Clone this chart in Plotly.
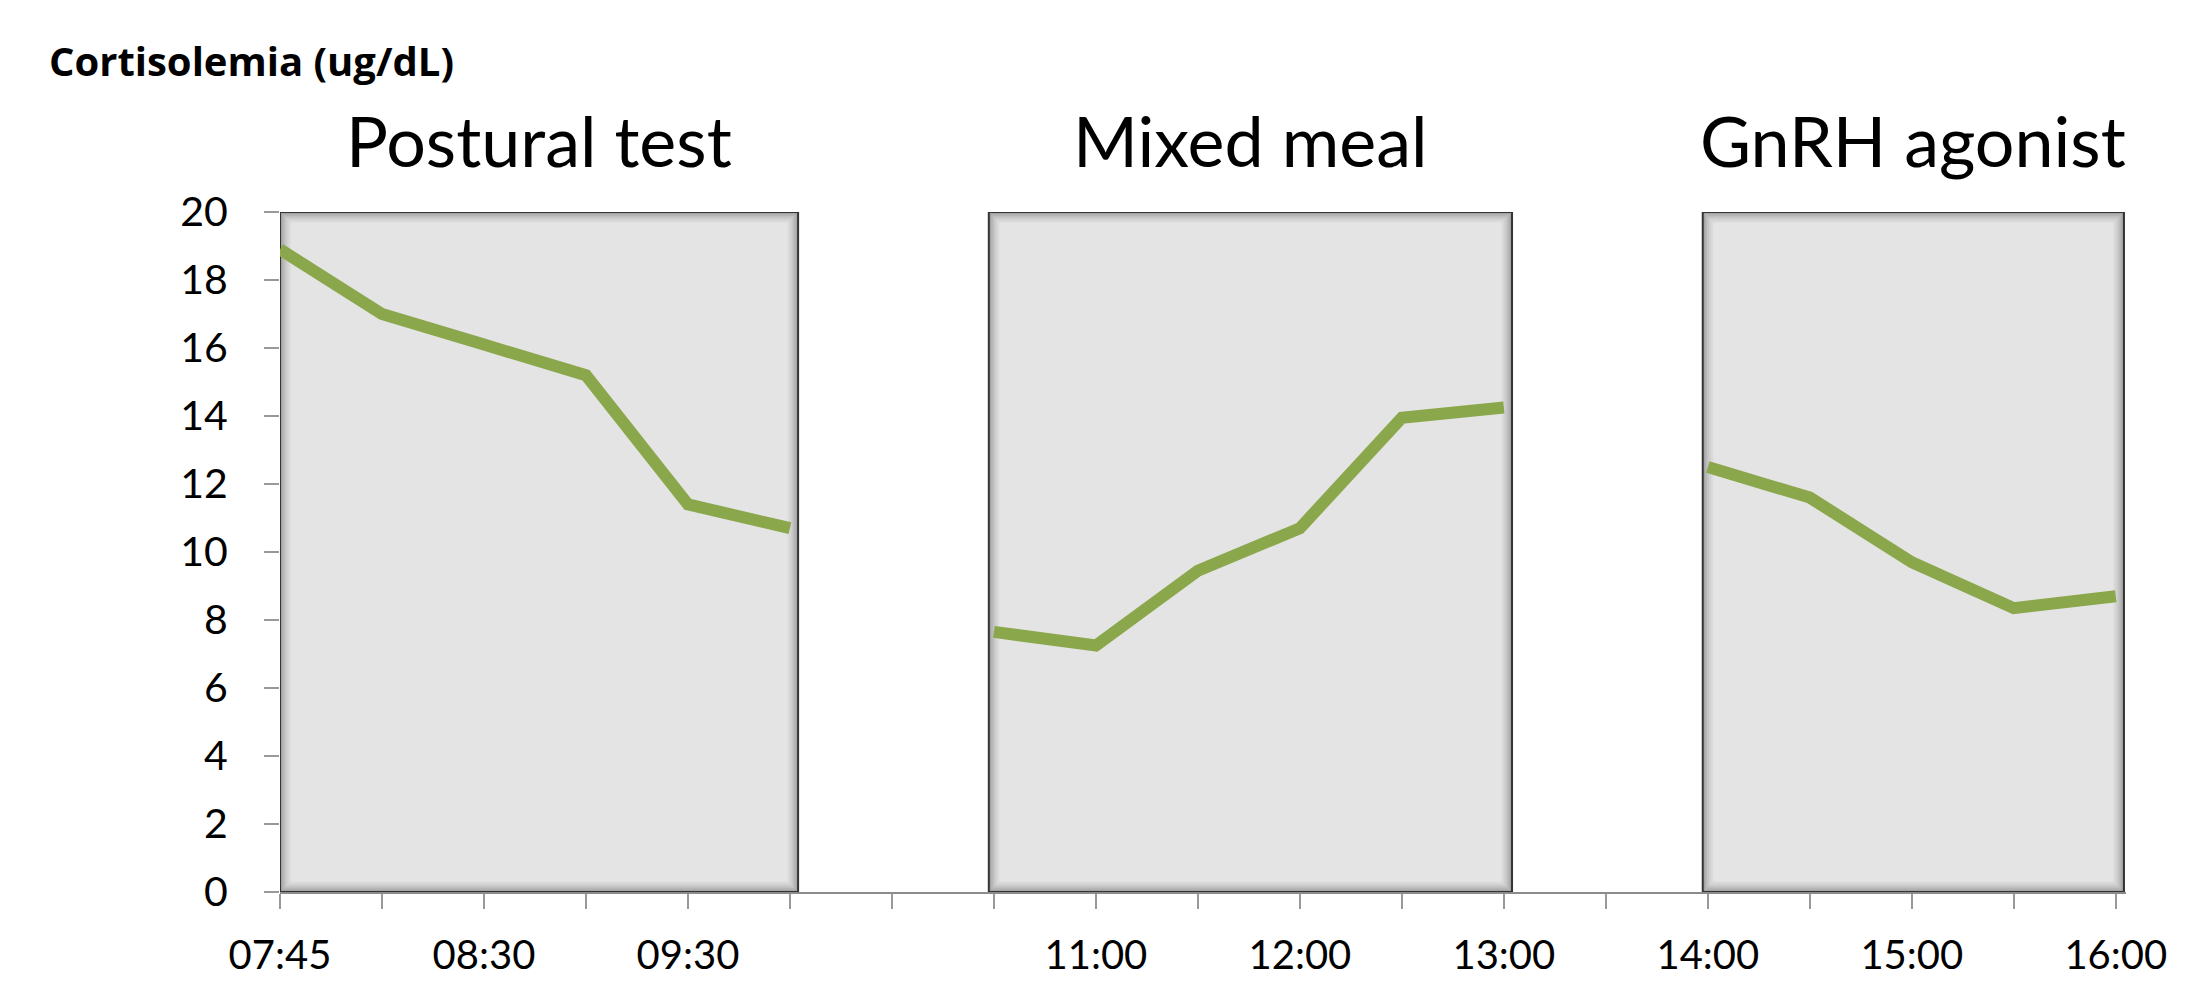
import plotly.graph_objects as go

# Sampling slots on the shared time axis (index -> label, blanks are unlabeled ticks)
tick_labels = ["07:45", "", "08:30", "", "09:30", "", "", "", "11:00", "",
               "12:00", "", "13:00", "", "14:00", "", "15:00", "", "16:00"]

# Cortisol (ug/dL) for each test, with the slot index where each sample sits
postural_idx = [0, 1, 2, 3, 4, 5]
postural_val = [18.9, 17.0, 16.1, 15.2, 11.4, 10.7]

meal_idx = [7, 8, 9, 10, 11, 12]
meal_val = [7.65, 7.25, 9.45, 10.7, 13.95, 14.25]

gnrh_idx = [14, 15, 16, 17, 18]
gnrh_val = [12.5, 11.6, 9.7, 8.35, 8.7]

panels = [
    ("Postural test", postural_idx, postural_val),
    ("Mixed meal", meal_idx, meal_val),
    ("GnRH agonist", gnrh_idx, gnrh_val),
]

W, H = 2186, 981
ML, MR, MT, MB = 280, 60, 212, 89
X_RANGE = [0, 18.1]
Y_RANGE = [0, 20]
PLOT_W = W - ML - MR
PLOT_H = H - MT - MB
px_x = PLOT_W / (X_RANGE[1] - X_RANGE[0])
px_y = PLOT_H / (Y_RANGE[1] - Y_RANGE[0])

FONT = "Lato"
LINE_COLOR = "#8aa74b"

fig = go.Figure()

shapes = []
annotations = []
for title, idx, vals in panels:
    x0 = max(idx[0] - 0.05, 0)
    x1 = idx[-1] + 0.08
    # panel background
    shapes.append(dict(type="rect", xref="x", yref="y", x0=x0, x1=x1, y0=0, y1=20,
                       fillcolor="#e4e4e4", line=dict(width=0), layer="below"))
    # soft inner shadow along the panel edges
    for k, a in enumerate([0.36, 0.26, 0.17, 0.10, 0.05]):
        dx = (1.5 + 2 * k) / px_x
        dy = (1.5 + 2 * k) / px_y
        shapes.append(dict(type="rect", xref="x", yref="y",
                           x0=x0 + dx, x1=x1 - dx, y0=0 + dy, y1=20 - dy,
                           fillcolor="rgba(0,0,0,0)",
                           line=dict(color=f"rgba(50,50,50,{a})", width=2),
                           layer="below"))
    # dark frame
    shapes.append(dict(type="rect", xref="x", yref="y", x0=x0, x1=x1, y0=0, y1=20,
                       fillcolor="rgba(0,0,0,0)",
                       line=dict(color="#333333", width=2), layer="below"))

    fig.add_trace(go.Scatter(
        x=idx, y=vals, mode="lines", name=title,
        line=dict(color=LINE_COLOR, width=12),
        hoverinfo="x+y", showlegend=False,
    ))

    # panel title centred above its box
    annotations.append(dict(
        text=title, xref="x", yref="paper",
        x=(x0 + x1) / 2, y=1 + 72 / PLOT_H,
        xanchor="center", yanchor="middle", showarrow=False,
        font=dict(family=FONT, size=70, color="#000000"),
    ))

annotations.append(dict(
    text="<b>Cortisolemia (ug/dL)</b>",
    xref="paper", yref="paper",
    x=(47 - ML) / PLOT_W, y=1 + (MT - 61) / PLOT_H,
    xanchor="left", yanchor="middle", showarrow=False,
    font=dict(family="Open Sans", size=40, color="#000000"),
))

fig.update_layout(
    width=W, height=H,
    margin=dict(l=ML, r=MR, t=MT, b=MB, pad=0, autoexpand=False),
    paper_bgcolor="#ffffff", plot_bgcolor="#ffffff",
    shapes=shapes, annotations=annotations,
    showlegend=False,
    font=dict(family=FONT, color="#000000"),
)

fig.update_xaxes(
    range=X_RANGE, automargin=False,
    tickmode="array", tickvals=list(range(len(tick_labels))), ticktext=tick_labels,
    ticks="outside", ticklen=15, tickwidth=2, tickcolor="#999999",
    showline=True, linecolor="#8c8c8c", linewidth=2,
    showgrid=False, zeroline=False,
    tickfont=dict(family=FONT, size=40, color="#000000"),
    ticklabelstandoff=12,
)
fig.update_yaxes(
    range=Y_RANGE, automargin=False,
    tickmode="linear", tick0=0, dtick=2,
    ticks="outside", ticklen=15, tickwidth=2, tickcolor="#999999",
    showline=False, showgrid=False, zeroline=False,
    tickfont=dict(family=FONT, size=41, color="#000000"),
    ticklabelstandoff=28,
)

fig.write_html("out.html")
